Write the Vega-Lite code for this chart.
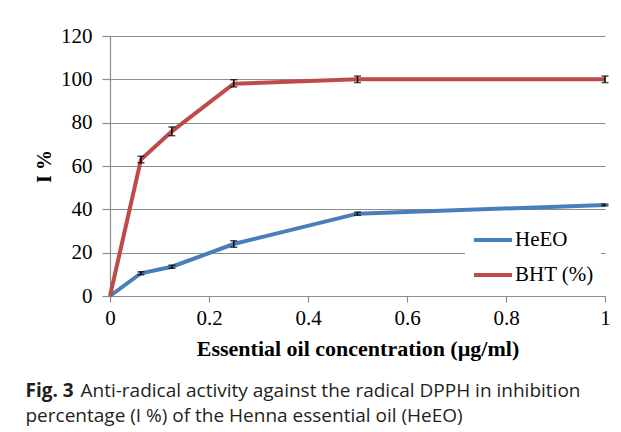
{
  "$schema": "https://vega.github.io/schema/vega-lite/v6.json",
  "background": "white",
  "padding": {"left": 25, "top": 25, "right": 4, "bottom": 1},
  "title": {"text": "Fig. 3", "orient": "bottom", "anchor": "start", "frame": "bounds", "font": "Open Sans", "fontSize": 19, "fontWeight": "bold", "color": "#231f20", "offset": -44},
  "vconcat": [
    {
      "title": {"text": "percentage (I %) of the Henna essential oil (HeEO)", "orient": "bottom", "anchor": "start", "frame": "bounds",
                "font": "Open Sans", "fontSize": 19, "fontWeight": "normal", "color": "#231f20", "offset": 6, "dx": -9},
      "resolve": {"legend": {"color": "independent"}},
      "vconcat": [
        {
          "width": 495,
          "height": 260,
          "title": {
            "text": "Anti-radical activity against the radical DPPH in inhibition",
            "orient": "bottom", "anchor": "start", "frame": "bounds",
            "font": "Open Sans", "fontSize": 19, "fontWeight": "normal", "color": "#231f20",
            "offset": 23, "dx": 46
          },
          "data": {
            "values": [
              {"conc": 0, "value": 0, "series": "HeEO", "lo": null, "hi": null},
              {"conc": 0.0625, "value": 10.5, "series": "HeEO", "lo": 9.8, "hi": 11.2},
              {"conc": 0.125, "value": 13.5, "series": "HeEO", "lo": 12.8, "hi": 14.2},
              {"conc": 0.25, "value": 24, "series": "HeEO", "lo": 22.5, "hi": 25.5},
              {"conc": 0.5, "value": 38, "series": "HeEO", "lo": 37.3, "hi": 38.7},
              {"conc": 1, "value": 42, "series": "HeEO", "lo": 41.6, "hi": 42.4},
              {"conc": 0, "value": 0, "series": "BHT (%)", "lo": null, "hi": null},
              {"conc": 0.0625, "value": 63, "series": "BHT (%)", "lo": 61.5, "hi": 64.5},
              {"conc": 0.125, "value": 76, "series": "BHT (%)", "lo": 74, "hi": 78},
              {"conc": 0.25, "value": 98, "series": "BHT (%)", "lo": 96.5, "hi": 99.8},
              {"conc": 0.5, "value": 100, "series": "BHT (%)", "lo": 98.5, "hi": 101.5},
              {"conc": 1, "value": 100, "series": "BHT (%)", "lo": 98.5, "hi": 101.5}
            ]
          },
          "layer": [
            {
              "mark": {"type": "line", "strokeWidth": 4},
              "encoding": {
                "x": {"field": "conc", "type": "quantitative", "scale": {"domain": [0, 1]},
                      "axis": {"values": [0, 0.2, 0.4, 0.6, 0.8, 1], "format": "~g", "grid": false,
                               "title": "Essential oil concentration (µg/ml)"}},
                "y": {"field": "value", "type": "quantitative", "scale": {"domain": [0, 120]},
                      "axis": {"values": [0, 20, 40, 60, 80, 100, 120], "grid": true, "title": "I %",
                               "tickSize": 8, "labelPadding": 10, "titlePadding": 6}},
                "color": {"field": "series", "type": "nominal",
                          "scale": {"domain": ["HeEO", "BHT (%)"], "range": ["#4a7ebb", "#be4b48"]},
                          "legend": {"title": null, "orient": "bottom-right", "offset": 4, "fillColor": "white",
                                     "padding": 7, "symbolType": "stroke", "symbolSize": 1444, "symbolStrokeWidth": 4,
                                     "labelFont": "Liberation Serif", "labelFontSize": 21, "labelColor": "black",
                                     "labelOffset": 1, "rowPadding": 4}}
              }
            },
            {
              "transform": [{"filter": "datum.lo != null"}],
              "mark": {"type": "errorbar", "ticks": {"size": 7, "color": "black", "strokeWidth": 1.5}, "color": "black", "thickness": 1.5},
              "encoding": {
                "x": {"field": "conc", "type": "quantitative"},
                "y": {"field": "lo", "type": "quantitative", "title": "I %"},
                "y2": {"field": "hi"}
              }
            }
          ]
        }
      ]
    }
  ],
  "config": {
    "view": {"stroke": null},
    "font": "Liberation Serif",
    "axis": {
      "labelFont": "Liberation Serif", "labelFontSize": 21, "labelColor": "black",
      "titleFont": "Liberation Serif", "titleFontSize": 22, "titleFontWeight": "bold", "titleColor": "black",
      "domainColor": "#8c8c8c", "tickColor": "#8c8c8c", "gridColor": "#8c8c8c", "domainWidth": 1.2, "gridWidth": 1.2, "tickWidth": 1.2
    },
    "axisX": {"tickSize": 6, "labelPadding": 5, "titlePadding": 10, "labelFlush": false},
    "axisY": {"labelFlush": false, "titleFontSize": 20}
  }
}
